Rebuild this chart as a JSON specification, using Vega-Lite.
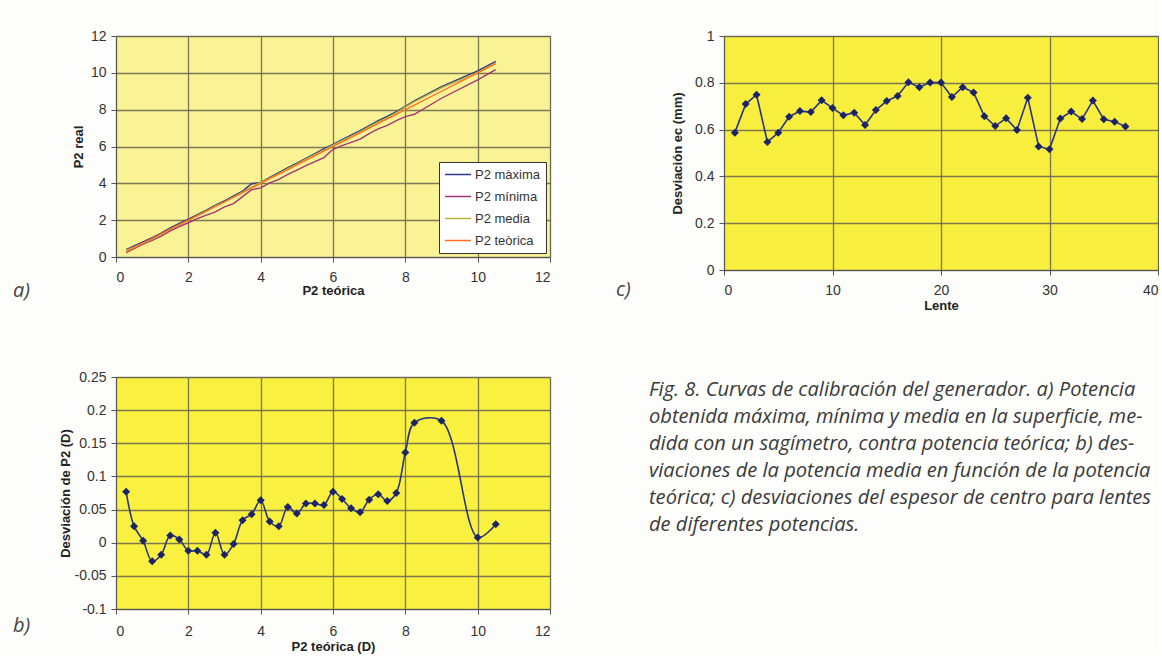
{
  "$schema": "https://vega.github.io/schema/vega-lite/v6.json",
  "background": "#fdfdfb",
  "padding": {"left": 12, "top": 28, "right": 0, "bottom": 0},
  "columns": 2,
  "bounds": "flush",
  "spacing": {"row": 107, "column": 174},
  "resolve": {"legend": {"color": "independent"}},
  "datasets": {
    "potencia": [
      {"x": 0.28, "serie": "P2 màxima", "y": 0.40}, {"x": 0.28, "serie": "P2 mínima", "y": 0.24}, {"x": 0.28, "serie": "P2 media", "y": 0.36}, {"x": 0.28, "serie": "P2 teòrica", "y": 0.28},
      {"x": 0.5, "serie": "P2 màxima", "y": 0.60}, {"x": 0.5, "serie": "P2 mínima", "y": 0.45}, {"x": 0.5, "serie": "P2 media", "y": 0.53}, {"x": 0.5, "serie": "P2 teòrica", "y": 0.5},
      {"x": 0.75, "serie": "P2 màxima", "y": 0.82}, {"x": 0.75, "serie": "P2 mínima", "y": 0.70}, {"x": 0.75, "serie": "P2 media", "y": 0.75}, {"x": 0.75, "serie": "P2 teòrica", "y": 0.75},
      {"x": 1.0, "serie": "P2 màxima", "y": 1.05}, {"x": 1.0, "serie": "P2 mínima", "y": 0.90}, {"x": 1.0, "serie": "P2 media", "y": 0.97}, {"x": 1.0, "serie": "P2 teòrica", "y": 1.0},
      {"x": 1.25, "serie": "P2 màxima", "y": 1.30}, {"x": 1.25, "serie": "P2 mínima", "y": 1.13}, {"x": 1.25, "serie": "P2 media", "y": 1.23}, {"x": 1.25, "serie": "P2 teòrica", "y": 1.25},
      {"x": 1.5, "serie": "P2 màxima", "y": 1.58}, {"x": 1.5, "serie": "P2 mínima", "y": 1.42}, {"x": 1.5, "serie": "P2 media", "y": 1.51}, {"x": 1.5, "serie": "P2 teòrica", "y": 1.5},
      {"x": 1.75, "serie": "P2 màxima", "y": 1.83}, {"x": 1.75, "serie": "P2 mínima", "y": 1.65}, {"x": 1.75, "serie": "P2 media", "y": 1.76}, {"x": 1.75, "serie": "P2 teòrica", "y": 1.75},
      {"x": 2.0, "serie": "P2 màxima", "y": 2.05}, {"x": 2.0, "serie": "P2 mínima", "y": 1.86}, {"x": 2.0, "serie": "P2 media", "y": 1.99}, {"x": 2.0, "serie": "P2 teòrica", "y": 2.0},
      {"x": 2.25, "serie": "P2 màxima", "y": 2.30}, {"x": 2.25, "serie": "P2 mínima", "y": 2.08}, {"x": 2.25, "serie": "P2 media", "y": 2.24}, {"x": 2.25, "serie": "P2 teòrica", "y": 2.25},
      {"x": 2.5, "serie": "P2 màxima", "y": 2.55}, {"x": 2.5, "serie": "P2 mínima", "y": 2.27}, {"x": 2.5, "serie": "P2 media", "y": 2.48}, {"x": 2.5, "serie": "P2 teòrica", "y": 2.5},
      {"x": 2.75, "serie": "P2 màxima", "y": 2.82}, {"x": 2.75, "serie": "P2 mínima", "y": 2.45}, {"x": 2.75, "serie": "P2 media", "y": 2.77}, {"x": 2.75, "serie": "P2 teòrica", "y": 2.75},
      {"x": 3.0, "serie": "P2 màxima", "y": 3.05}, {"x": 3.0, "serie": "P2 mínima", "y": 2.72}, {"x": 3.0, "serie": "P2 media", "y": 2.98}, {"x": 3.0, "serie": "P2 teòrica", "y": 3.0},
      {"x": 3.25, "serie": "P2 màxima", "y": 3.32}, {"x": 3.25, "serie": "P2 mínima", "y": 2.90}, {"x": 3.25, "serie": "P2 media", "y": 3.25}, {"x": 3.25, "serie": "P2 teòrica", "y": 3.25},
      {"x": 3.5, "serie": "P2 màxima", "y": 3.58}, {"x": 3.5, "serie": "P2 mínima", "y": 3.28}, {"x": 3.5, "serie": "P2 media", "y": 3.53}, {"x": 3.5, "serie": "P2 teòrica", "y": 3.5},
      {"x": 3.75, "serie": "P2 màxima", "y": 3.98}, {"x": 3.75, "serie": "P2 mínima", "y": 3.65}, {"x": 3.75, "serie": "P2 media", "y": 3.79}, {"x": 3.75, "serie": "P2 teòrica", "y": 3.75},
      {"x": 4.0, "serie": "P2 màxima", "y": 4.05}, {"x": 4.0, "serie": "P2 mínima", "y": 3.75}, {"x": 4.0, "serie": "P2 media", "y": 4.06}, {"x": 4.0, "serie": "P2 teòrica", "y": 4.0},
      {"x": 4.25, "serie": "P2 màxima", "y": 4.32}, {"x": 4.25, "serie": "P2 mínima", "y": 4.02}, {"x": 4.25, "serie": "P2 media", "y": 4.28}, {"x": 4.25, "serie": "P2 teòrica", "y": 4.25},
      {"x": 4.5, "serie": "P2 màxima", "y": 4.58}, {"x": 4.5, "serie": "P2 mínima", "y": 4.22}, {"x": 4.5, "serie": "P2 media", "y": 4.53}, {"x": 4.5, "serie": "P2 teòrica", "y": 4.5},
      {"x": 4.75, "serie": "P2 màxima", "y": 4.85}, {"x": 4.75, "serie": "P2 mínima", "y": 4.48}, {"x": 4.75, "serie": "P2 media", "y": 4.80}, {"x": 4.75, "serie": "P2 teòrica", "y": 4.75},
      {"x": 5.0, "serie": "P2 màxima", "y": 5.10}, {"x": 5.0, "serie": "P2 mínima", "y": 4.72}, {"x": 5.0, "serie": "P2 media", "y": 5.04}, {"x": 5.0, "serie": "P2 teòrica", "y": 5.0},
      {"x": 5.25, "serie": "P2 màxima", "y": 5.36}, {"x": 5.25, "serie": "P2 mínima", "y": 4.96}, {"x": 5.25, "serie": "P2 media", "y": 5.31}, {"x": 5.25, "serie": "P2 teòrica", "y": 5.25},
      {"x": 5.5, "serie": "P2 màxima", "y": 5.62}, {"x": 5.5, "serie": "P2 mínima", "y": 5.18}, {"x": 5.5, "serie": "P2 media", "y": 5.56}, {"x": 5.5, "serie": "P2 teòrica", "y": 5.5},
      {"x": 5.75, "serie": "P2 màxima", "y": 5.88}, {"x": 5.75, "serie": "P2 mínima", "y": 5.40}, {"x": 5.75, "serie": "P2 media", "y": 5.81}, {"x": 5.75, "serie": "P2 teòrica", "y": 5.75},
      {"x": 6.0, "serie": "P2 màxima", "y": 6.12}, {"x": 6.0, "serie": "P2 mínima", "y": 5.85}, {"x": 6.0, "serie": "P2 media", "y": 6.08}, {"x": 6.0, "serie": "P2 teòrica", "y": 6.0},
      {"x": 6.25, "serie": "P2 màxima", "y": 6.38}, {"x": 6.25, "serie": "P2 mínima", "y": 6.05}, {"x": 6.25, "serie": "P2 media", "y": 6.32}, {"x": 6.25, "serie": "P2 teòrica", "y": 6.25},
      {"x": 6.5, "serie": "P2 màxima", "y": 6.62}, {"x": 6.5, "serie": "P2 mínima", "y": 6.22}, {"x": 6.5, "serie": "P2 media", "y": 6.55}, {"x": 6.5, "serie": "P2 teòrica", "y": 6.5},
      {"x": 6.75, "serie": "P2 màxima", "y": 6.86}, {"x": 6.75, "serie": "P2 mínima", "y": 6.40}, {"x": 6.75, "serie": "P2 media", "y": 6.80}, {"x": 6.75, "serie": "P2 teòrica", "y": 6.75},
      {"x": 7.0, "serie": "P2 màxima", "y": 7.14}, {"x": 7.0, "serie": "P2 mínima", "y": 6.70}, {"x": 7.0, "serie": "P2 media", "y": 7.07}, {"x": 7.0, "serie": "P2 teòrica", "y": 7.0},
      {"x": 7.25, "serie": "P2 màxima", "y": 7.40}, {"x": 7.25, "serie": "P2 mínima", "y": 6.96}, {"x": 7.25, "serie": "P2 media", "y": 7.32}, {"x": 7.25, "serie": "P2 teòrica", "y": 7.25},
      {"x": 7.5, "serie": "P2 màxima", "y": 7.63}, {"x": 7.5, "serie": "P2 mínima", "y": 7.15}, {"x": 7.5, "serie": "P2 media", "y": 7.56}, {"x": 7.5, "serie": "P2 teòrica", "y": 7.5},
      {"x": 7.75, "serie": "P2 màxima", "y": 7.90}, {"x": 7.75, "serie": "P2 mínima", "y": 7.40}, {"x": 7.75, "serie": "P2 media", "y": 7.83}, {"x": 7.75, "serie": "P2 teòrica", "y": 7.75},
      {"x": 8.0, "serie": "P2 màxima", "y": 8.18}, {"x": 8.0, "serie": "P2 mínima", "y": 7.62}, {"x": 8.0, "serie": "P2 media", "y": 8.14}, {"x": 8.0, "serie": "P2 teòrica", "y": 8.0},
      {"x": 8.25, "serie": "P2 màxima", "y": 8.48}, {"x": 8.25, "serie": "P2 mínima", "y": 7.75}, {"x": 8.25, "serie": "P2 media", "y": 8.43}, {"x": 8.25, "serie": "P2 teòrica", "y": 8.25},
      {"x": 9.0, "serie": "P2 màxima", "y": 9.25}, {"x": 9.0, "serie": "P2 mínima", "y": 8.62}, {"x": 9.0, "serie": "P2 media", "y": 9.18}, {"x": 9.0, "serie": "P2 teòrica", "y": 9.0},
      {"x": 10.0, "serie": "P2 màxima", "y": 10.10}, {"x": 10.0, "serie": "P2 mínima", "y": 9.62}, {"x": 10.0, "serie": "P2 media", "y": 10.01}, {"x": 10.0, "serie": "P2 teòrica", "y": 10.0},
      {"x": 10.5, "serie": "P2 màxima", "y": 10.62}, {"x": 10.5, "serie": "P2 mínima", "y": 10.18}, {"x": 10.5, "serie": "P2 media", "y": 10.53}, {"x": 10.5, "serie": "P2 teòrica", "y": 10.5}
    ],
    "desviacion": [
      {"x": 0.28, "d": 0.077}, {"x": 0.5, "d": 0.025}, {"x": 0.75, "d": 0.003}, {"x": 1.0, "d": -0.028},
      {"x": 1.25, "d": -0.018}, {"x": 1.5, "d": 0.011}, {"x": 1.75, "d": 0.005}, {"x": 2.0, "d": -0.012},
      {"x": 2.25, "d": -0.012}, {"x": 2.5, "d": -0.018}, {"x": 2.75, "d": 0.015}, {"x": 3.0, "d": -0.018},
      {"x": 3.25, "d": -0.002}, {"x": 3.5, "d": 0.034}, {"x": 3.75, "d": 0.043}, {"x": 4.0, "d": 0.064},
      {"x": 4.25, "d": 0.032}, {"x": 4.5, "d": 0.025}, {"x": 4.75, "d": 0.054}, {"x": 5.0, "d": 0.044},
      {"x": 5.25, "d": 0.059}, {"x": 5.5, "d": 0.059}, {"x": 5.75, "d": 0.057}, {"x": 6.0, "d": 0.077},
      {"x": 6.25, "d": 0.066}, {"x": 6.5, "d": 0.052}, {"x": 6.75, "d": 0.046}, {"x": 7.0, "d": 0.065},
      {"x": 7.25, "d": 0.073}, {"x": 7.5, "d": 0.063}, {"x": 7.75, "d": 0.075}, {"x": 8.0, "d": 0.136},
      {"x": 8.25, "d": 0.181}, {"x": 9.0, "d": 0.184}, {"x": 10.0, "d": 0.008}, {"x": 10.5, "d": 0.028}
    ],
    "lentes": [
      {"lente": 1, "e": 0.587}, {"lente": 2, "e": 0.709}, {"lente": 3, "e": 0.749}, {"lente": 4, "e": 0.547},
      {"lente": 5, "e": 0.587}, {"lente": 6, "e": 0.655}, {"lente": 7, "e": 0.679}, {"lente": 8, "e": 0.675},
      {"lente": 9, "e": 0.725}, {"lente": 10, "e": 0.692}, {"lente": 11, "e": 0.661}, {"lente": 12, "e": 0.672},
      {"lente": 13, "e": 0.620}, {"lente": 14, "e": 0.684}, {"lente": 15, "e": 0.722}, {"lente": 16, "e": 0.744},
      {"lente": 17, "e": 0.802}, {"lente": 18, "e": 0.781}, {"lente": 19, "e": 0.801}, {"lente": 20, "e": 0.801},
      {"lente": 21, "e": 0.739}, {"lente": 22, "e": 0.781}, {"lente": 23, "e": 0.759}, {"lente": 24, "e": 0.657},
      {"lente": 25, "e": 0.615}, {"lente": 26, "e": 0.648}, {"lente": 27, "e": 0.598}, {"lente": 28, "e": 0.736},
      {"lente": 29, "e": 0.528}, {"lente": 30, "e": 0.516}, {"lente": 31, "e": 0.647}, {"lente": 32, "e": 0.677},
      {"lente": 33, "e": 0.645}, {"lente": 34, "e": 0.724}, {"lente": 35, "e": 0.644}, {"lente": 36, "e": 0.634},
      {"lente": 37, "e": 0.613}
    ],
    "pie": [
      {"line": 1, "text": "Fig. 8. Curvas de calibración del generador. a) Potencia"},
      {"line": 2, "text": "obtenida máxima, mínima y media en la superficie, me-"},
      {"line": 3, "text": "dida con un sagímetro, contra potencia teórica; b) des-"},
      {"line": 4, "text": "viaciones de la potencia media en función de la potencia"},
      {"line": 5, "text": "teórica; c) desviaciones del espesor de centro para lentes"},
      {"line": 6, "text": "de diferentes potencias."}
    ]
  },
  "config": {
    "font": "Liberation Sans",
    "view": {"stroke": "#555", "strokeWidth": 1},
    "axis": {
      "labelFont": "Liberation Sans", "labelFontSize": 14, "labelColor": "#333",
      "titleFont": "Liberation Sans", "titleFontSize": 13, "titleFontWeight": "bold", "titleColor": "#222",
      "domainColor": "#555", "tickColor": "#555", "tickSize": 5,
      "gridColor": "#6e6c50", "gridWidth": 1.3, "gridOpacity": 0.9
    },
    "axisX": {"labelPadding": 8, "titlePadding": 0},
    "axisY": {"labelPadding": 5, "titlePadding": 3},
    "title": {"font": "Open Sans", "fontStyle": "italic", "fontWeight": "normal", "fontSize": 20, "color": "#444", "orient": "bottom", "anchor": "start", "frame": "group"}
  },
  "concat": [
    {
      "width": 434, "height": 221,
      "view": {"fill": "#f9f396"},
      "title": {"text": "a)", "dx": -103, "offset": -16},
      "data": {"name": "potencia"},
      "mark": {"type": "line", "strokeWidth": 1.4},
      "encoding": {
        "x": {"field": "x", "type": "quantitative", "scale": {"domain": [0, 12], "nice": false},
              "axis": {"title": "P2 teórica", "values": [0, 2, 4, 6, 8, 10, 12]}},
        "y": {"field": "y", "type": "quantitative", "scale": {"domain": [0, 12], "nice": false},
              "axis": {"title": "P2 real", "values": [0, 2, 4, 6, 8, 10, 12], "titlePadding": 5}},
        "color": {"field": "serie", "type": "nominal",
                  "scale": {"domain": ["P2 màxima", "P2 mínima", "P2 media", "P2 teòrica"], "range": ["#2b3a8c", "#a53378", "#b8b53a", "#ff6f22"]},
                  "legend": {"title": null, "orient": "bottom-right", "offset": 4, "fillColor": "white", "strokeColor": "#333", "padding": 5,
                             "symbolType": "M-1,0H3", "symbolSize": 169, "symbolStrokeWidth": 1.5, "rowPadding": 7, "labelOffset": 16,
                             "labelFont": "Liberation Sans", "labelFontSize": 13, "labelColor": "#333"}}
      }
    },
    {
      "width": 434, "height": 234,
      "view": {"fill": "#f8ee3e"},
      "title": {"text": "c)", "dx": -108, "offset": -32},
      "data": {"name": "lentes"},
      "encoding": {
        "x": {"field": "lente", "type": "quantitative", "scale": {"domain": [0, 40], "nice": false},
              "axis": {"title": "Lente", "values": [0, 10, 20, 30, 40], "titlePadding": 2}},
        "y": {"field": "e", "type": "quantitative", "scale": {"domain": [0, 1], "nice": false},
              "axis": {"title": "Desviación ec (mm)", "values": [0, 0.2, 0.4, 0.6, 0.8, 1], "format": ".1~f", "titlePadding": 10}}
      },
      "layer": [
        {"mark": {"type": "line", "color": "#2a3580", "strokeWidth": 1.6}},
        {"mark": {"type": "point", "shape": "diamond", "filled": true, "size": 64, "color": "#1c2468", "opacity": 1}}
      ]
    },
    {
      "width": 434, "height": 232,
      "view": {"fill": "#f9f040"},
      "title": {"text": "b)", "dx": -103, "offset": -37},
      "data": {"name": "desviacion"},
      "encoding": {
        "x": {"field": "x", "type": "quantitative", "scale": {"domain": [0, 12], "nice": false},
              "axis": {"title": "P2 teórica (D)", "values": [0, 2, 4, 6, 8, 10, 12], "labelPadding": 10, "titlePadding": 2}},
        "y": {"field": "d", "type": "quantitative", "scale": {"domain": [-0.1, 0.25], "nice": false},
              "axis": {"title": "Desviación de P2 (D)", "values": [-0.1, -0.05, 0, 0.05, 0.1, 0.15, 0.2, 0.25], "format": ".2~f",
                       "labelExpr": "replace(datum.label, '−', '-')", "titlePadding": 2}}
      },
      "layer": [
        {"mark": {"type": "line", "interpolate": "catmull-rom", "color": "#2a3580", "strokeWidth": 1.6}},
        {"mark": {"type": "point", "shape": "diamond", "filled": true, "size": 64, "color": "#1c2468", "opacity": 1}}
      ]
    },
    {
      "width": 434, "height": 161,
      "view": {"stroke": null, "fill": null},
      "data": {"name": "pie"},
      "mark": {"type": "text", "align": "left", "baseline": "middle", "font": "Open Sans", "fontStyle": "italic", "fontSize": 20.1, "color": "#3a3a3a", "dx": -75},
      "encoding": {
        "x": {"datum": 0, "type": "quantitative", "scale": {"domain": [0, 1]}, "axis": null},
        "y": {"field": "line", "type": "ordinal", "scale": {"type": "point", "padding": 0.48}, "axis": null},
        "text": {"field": "text"}
      }
    }
  ]
}
